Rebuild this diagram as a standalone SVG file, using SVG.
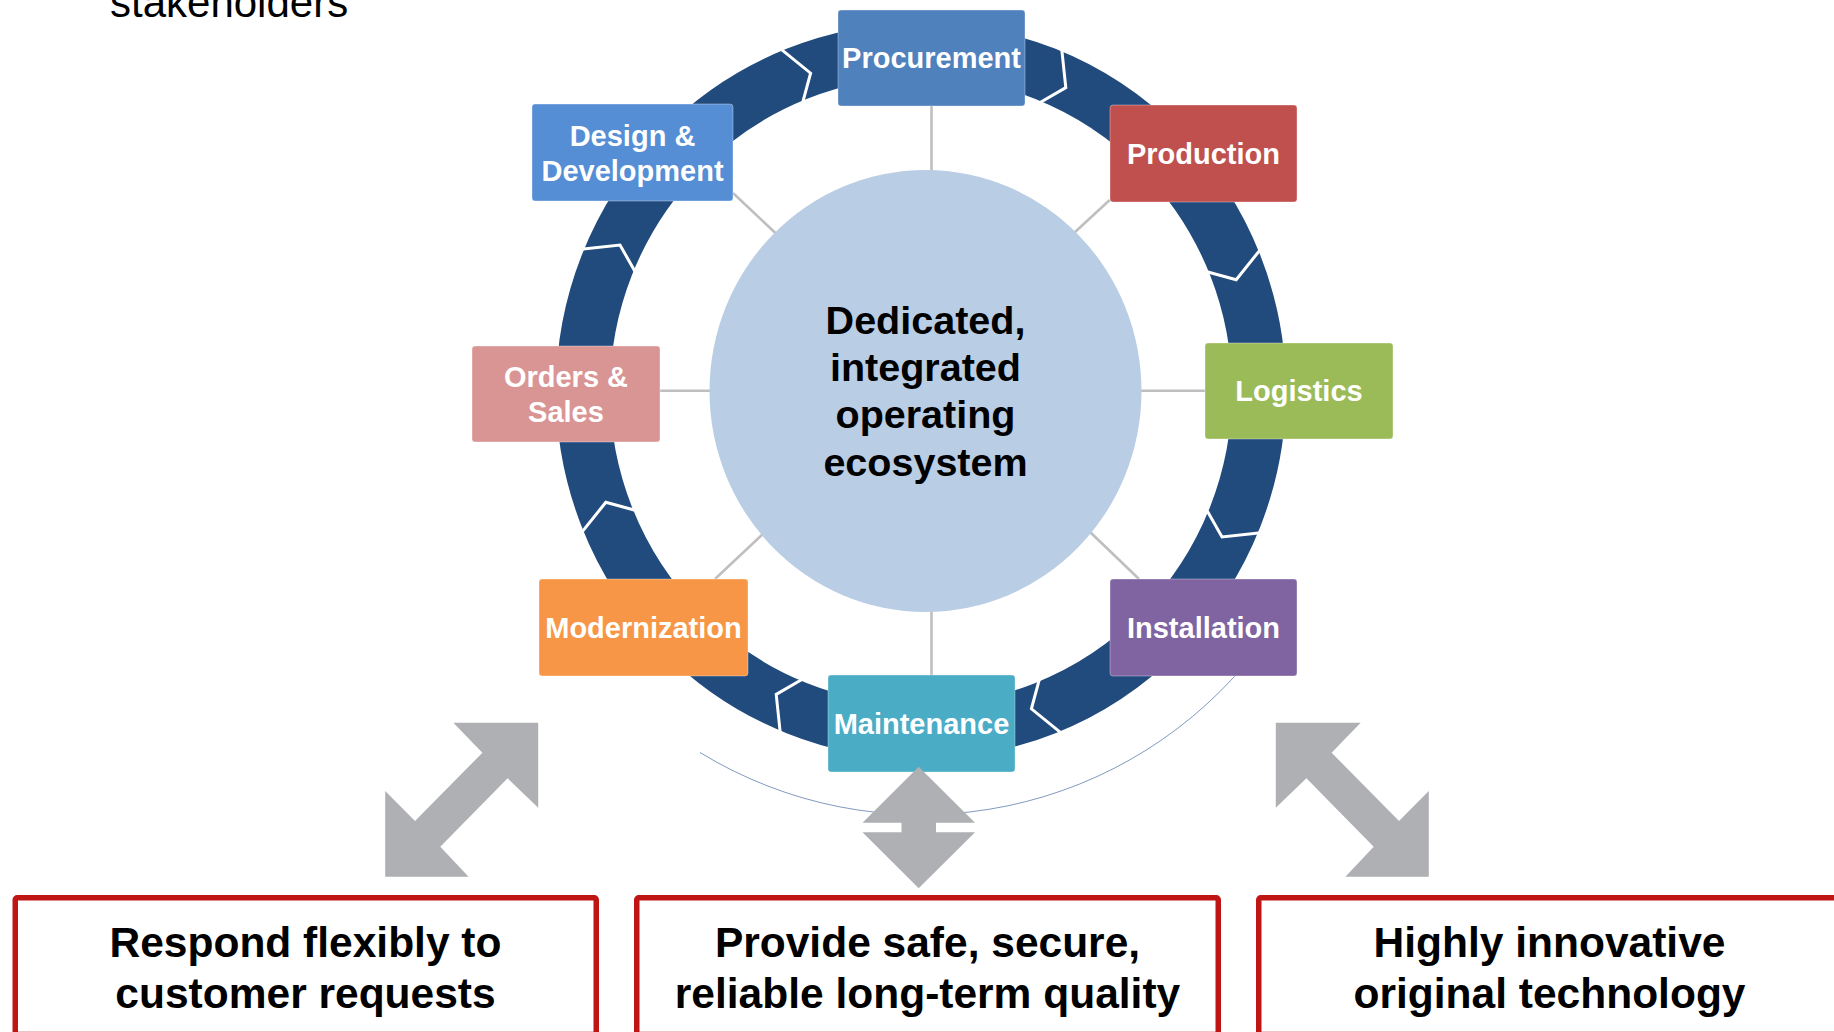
<svg xmlns="http://www.w3.org/2000/svg" width="1834" height="1032" viewBox="0 0 1834 1032">
  <style>
    .node rect { stroke: #ffffff; stroke-opacity: 0.35; stroke-width: 1; }
    .lbl { font-family: "Liberation Sans", Arial, sans-serif; font-weight: bold; font-size: 29px; fill: #ffffff; text-anchor: middle; }
    .conn line { stroke: #BFBFBF; stroke-width: 2.6; }
    .chev { fill: none; stroke: #ffffff; stroke-width: 3; stroke-linejoin: miter; }
    .core { font-family: "Liberation Sans", Arial, sans-serif; font-weight: bold; font-size: 39.5px; fill: #000000; text-anchor: middle; }
    .vbox rect { fill: #ffffff; stroke: #BF1515; stroke-width: 5.5; }
    .vtxt { font-family: "Liberation Sans", Arial, sans-serif; font-weight: bold; font-size: 42.5px; fill: #000000; text-anchor: middle; }
    .arrow { fill: #AFB0B3; }
  </style>

  <rect x="0" y="0" width="1834" height="1032" fill="#ffffff"/>

  <text x="110" y="17" font-family="Liberation Sans, Arial, sans-serif" font-size="42" fill="#000000">stakeholders</text>

  <!-- Cycle ring -->
  <g id="ring">
    <ellipse cx="921" cy="391" rx="338" ry="341" fill="none" stroke="#214A7D" stroke-width="54"/>
    <polyline class="chev" points="1263.3,532.5 1222.0,537.0 1206.0,508.8"/>
    <polyline class="chev" points="1063.8,735.1 1031.4,708.8 1039.9,677.4"/>
    <polyline class="chev" points="780.6,736.1 776.2,694.4 804.1,678.2"/>
    <polyline class="chev" points="579.7,534.9 605.8,502.3 636.9,510.8"/>
    <polyline class="chev" points="578.7,249.5 620.0,245.0 636.0,273.2"/>
    <polyline class="chev" points="778.2,46.9 810.6,73.2 802.1,104.6"/>
    <polyline class="chev" points="1061.4,45.9 1065.8,87.6 1037.9,103.8"/>
    <polyline class="chev" points="1262.3,247.1 1236.2,279.7 1205.1,271.2"/>
  </g>

  <path id="outer-arc" d="M 700 752.5 A 424 424 0 0 0 1245.8 663.5" fill="none" stroke="#2F5597" stroke-width="1" stroke-opacity="0.6"/>

  <!-- Connectors -->
  <g id="connectors" class="conn">
    <line x1="931.5" y1="106" x2="931.5" y2="172"/>
    <line x1="931.5" y1="609" x2="931.5" y2="675"/>
    <line x1="660" y1="390.7" x2="712" y2="390.7"/>
    <line x1="1140" y1="390.7" x2="1205" y2="390.7"/>
    <line x1="733" y1="193" x2="777" y2="234.5"/>
    <line x1="1109.7" y1="200" x2="1074" y2="233"/>
    <line x1="715" y1="579" x2="764.5" y2="532.5"/>
    <line x1="1139" y1="579" x2="1089.5" y2="531.5"/>
  </g>

  <!-- Core -->
  <g id="core">
    <ellipse cx="925.5" cy="391" rx="216" ry="221" fill="#B9CDE5"/>
    <text class="core" x="925.5" y="334">Dedicated,</text>
    <text class="core" x="925.5" y="381">integrated</text>
    <text class="core" x="925.5" y="428">operating</text>
    <text class="core" x="925.5" y="476">ecosystem</text>
  </g>

  <!-- Nodes -->
  <g id="procurement" class="node">
    <rect x="838" y="10" width="187" height="96" rx="3" fill="#4F81BD"/>
    <text class="lbl" x="931.5" y="68">Procurement</text>
  </g>
  <g id="production" class="node">
    <rect x="1110" y="105" width="187" height="97" rx="3" fill="#C0504D"/>
    <text class="lbl" x="1203.5" y="163.5">Production</text>
  </g>
  <g id="logistics" class="node">
    <rect x="1205" y="343" width="188" height="96" rx="3" fill="#9BBB59"/>
    <text class="lbl" x="1299" y="401">Logistics</text>
  </g>
  <g id="installation" class="node">
    <rect x="1110" y="579" width="187" height="97" rx="3" fill="#8064A2"/>
    <text class="lbl" x="1203.5" y="638">Installation</text>
  </g>
  <g id="maintenance" class="node">
    <rect x="828" y="675" width="187" height="97" rx="3" fill="#4BACC6"/>
    <text class="lbl" x="921.5" y="733.5">Maintenance</text>
  </g>
  <g id="modernization" class="node">
    <rect x="539" y="579" width="209" height="97" rx="3" fill="#F79646"/>
    <text class="lbl" x="643.5" y="638">Modernization</text>
  </g>
  <g id="orders-sales" class="node">
    <rect x="472" y="346" width="188" height="96" rx="3" fill="#D99594"/>
    <text class="lbl" x="566" y="386.5">Orders &amp;</text>
    <text class="lbl" x="566" y="421.5">Sales</text>
  </g>
  <g id="design-development" class="node">
    <rect x="532" y="104" width="201" height="97" rx="3" fill="#558ED5"/>
    <text class="lbl" x="632.5" y="145.5">Design &amp;</text>
    <text class="lbl" x="632.5" y="180.5">Development</text>
  </g>

  <!-- Arrows to values -->
  <g id="arrows">
    <polygon class="arrow" points="453.3,722.7 538.2,722.7 538.2,807.7 507.6,778.3 440.3,846.7 468.6,876.7 385.2,876.7 385.2,791 415,821 482.4,752.7"/>
    <polygon class="arrow" points="918.7,766.7 975,822.7 936,822.7 936,832.3 975,832.3 918.7,888.3 862.5,832.3 901.5,832.3 901.5,822.7 862.5,822.7"/>
    <polygon class="arrow" points="1360.7,722.7 1275.8,722.7 1275.8,807.7 1306.4,778.3 1373.7,846.7 1345.4,876.7 1428.8,876.7 1428.8,791 1399,821 1331.6,752.7"/>
  </g>

  <!-- Value boxes -->
  <g id="value-flexible" class="vbox">
    <rect x="15.25" y="897.75" width="581" height="136.75" rx="2"/>
    <text class="vtxt" x="305.5" y="957">Respond flexibly to</text>
    <text class="vtxt" x="305.5" y="1008">customer requests</text>
  </g>
  <g id="value-quality" class="vbox">
    <rect x="636.75" y="897.75" width="581.5" height="136.75" rx="2"/>
    <text class="vtxt" x="927.5" y="957">Provide safe, secure,</text>
    <text class="vtxt" x="927.5" y="1008">reliable long-term quality</text>
  </g>
  <g id="value-technology" class="vbox">
    <rect x="1258.75" y="897.75" width="581.5" height="136.75" rx="2"/>
    <text class="vtxt" x="1549.5" y="957">Highly innovative</text>
    <text class="vtxt" x="1549.5" y="1008">original technology</text>
  </g>
</svg>
